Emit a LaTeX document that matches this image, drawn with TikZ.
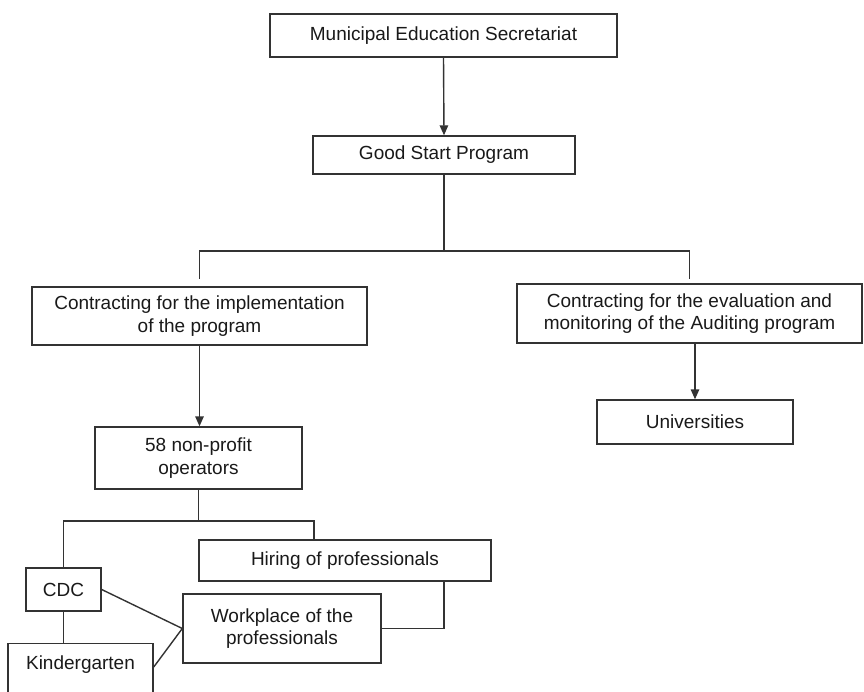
\documentclass[tikz,border=0pt]{standalone}
\usepackage{fontspec}
\setmainfont{Liberation Sans}
\usetikzlibrary{arrows.meta}

\begin{document}
\begin{tikzpicture}
[x=1pt,y=-1pt,
  lineDecorate/.style={-,line width=1.4pt,draw=black!80},%
  arrowDecorate/.style={lineDecorate,-{Triangle[length=10pt,width=8.5pt]}},%
  nodeDecorate/.style={shape=rectangle,draw=black!80,line width=1.4pt,inner sep=0pt,
    align=center,text=black!90,font=\fontsize{19}{22.5}\selectfont}]
\useasboundingbox (0,0) rectangle (864,691);
%% boxes
\foreach \nodename/\x/\y/\w/\h/\txt in {
  mes/443.5/35.5/347/43/{Municipal Education Secretariat},
  gsp/444/155/262/38/{Good Start Program},
  cimp/199.5/316/335/58/{Contracting for the implementation\\of the program},
  ceval/689.5/313.5/345/59/{Contracting for the evaluation and\\monitoring of the Auditing program},
  univ/695/422/196/44/{Universities},
  ops/198.5/458/207/62/{58 non-profit\\operators},
  hire/345/560.5/292/41/{Hiring of professionals},
  cdc/63.5/589.5/75/43/{CDC},
  work/282/628.5/198/69/{Workplace of the\\professionals}}
{
  \node (\nodename) at (\x,\y) [nodeDecorate,minimum width=\w pt,minimum height=\h pt] {\txt};
}
\node (kind) at (80.5,643) [nodeDecorate,anchor=north,minimum width=145pt,
  text height=26pt,text depth=40pt] {Kindergarten};
%% split points
\coordinate (split) at (444,251);
\coordinate (fork) at (198.5,521);
\coordinate (hireIn) at (314,540);
\coordinate (hireOut) at (444,581);
%% connectors
\draw[arrowDecorate] (mes.south) -- (gsp.north);
\draw[lineDecorate] (gsp.south) -- (split);
\draw[lineDecorate,shorten >=7pt] (split) -| (cimp.north);
\draw[lineDecorate,shorten >=4pt] (split) -| (ceval.north);
\draw[arrowDecorate] (cimp.south) -- (cimp.south |- ops.north);
\draw[arrowDecorate] (univ.north |- ceval.south) -- (univ.north);
\draw[lineDecorate] (ops.south) -- (fork);
\draw[lineDecorate] (cdc.north) |- (fork) -| (hireIn);
\draw[lineDecorate] (cdc.south) -- (cdc.south |- kind.north);
\draw[lineDecorate] (cdc.east) -- (work.west);
\draw[lineDecorate] (kind.mid east) -- (work.west);
\draw[lineDecorate] (hireOut) |- (work.east);
\end{tikzpicture}
\end{document}
